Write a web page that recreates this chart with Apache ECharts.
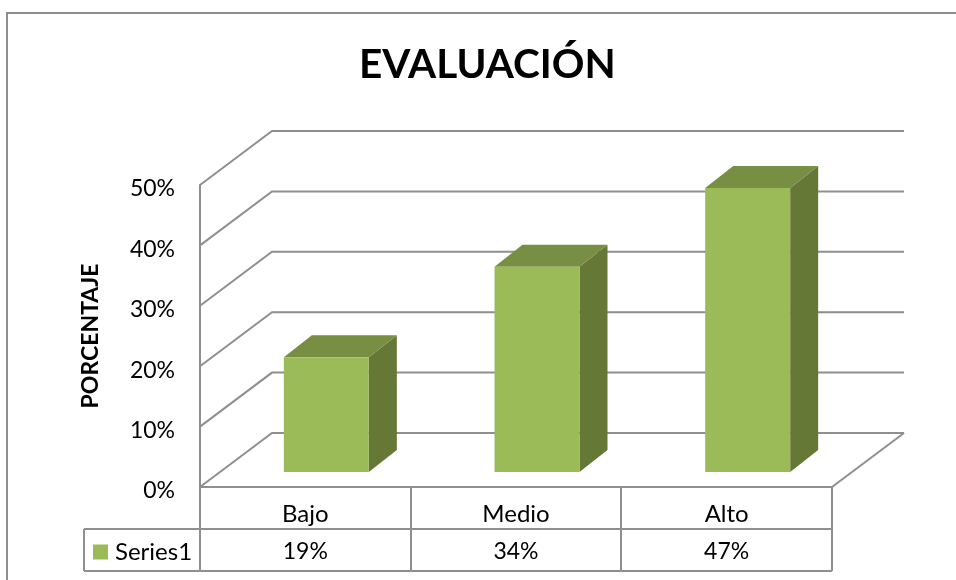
<!DOCTYPE html>
<html>
<head>
<meta charset="utf-8">
<title>Evaluación</title>
<style>
  html, body { margin: 0; padding: 0; background: #ffffff; }
  #chart { width: 956px; height: 580px; }
</style>
<script src="https://cdn.jsdelivr.net/npm/echarts@6/dist/echarts.min.js"></script>
</head>
<body>
<div id="chart"></div>
<script>
const categories = ['Bajo', 'Medio', 'Alto']
const seriesValues = [19, 34, 47]
const wallTicks = [0, 10, 20, 30, 40, 50]

const FONT = 'Lato, Carlito, sans-serif'
const LINE = '#8f8f8f'
const FRONT = '#9BBB59'
const TOP = '#778E43'
const SIDE = '#657836'

// 3D look: depth of the box and of each bar, in pixels
const wallDepth = [72, 54]
const barDepth = [28, 22]
const barLift = [21, 15]
const barWidth = 85

const chart = echarts.init(document.getElementById('chart'))

const renderWall = (params, api) => {
  const rect = params.coordSys
  const y = api.coord([0, api.value(0)])[1]
  const x0 = rect.x
  const x1 = rect.x + wallDepth[0]
  const x2 = rect.x + rect.width + wallDepth[0]
  const y1 = y - wallDepth[1]
  return {
    type: 'polyline',
    shape: { points: [[x0, y], [x1, y1], [x2, y1]] },
    style: { stroke: LINE, lineWidth: 2, fill: null },
    silent: true
  }
}

const renderBar = (params, api) => {
  const base = api.coord([api.value(0), 0])
  const head = api.coord([api.value(0), api.value(1)])
  const left = base[0] + barLift[0] - barWidth / 2
  const right = left + barWidth
  const bottom = base[1] - barLift[1]
  const top = head[1] - barLift[1]
  const [dx, dy] = barDepth
  return {
    type: 'group',
    children: [
      {
        type: 'polygon',
        shape: { points: [[right, top], [right + dx, top - dy], [right + dx, bottom - dy], [right, bottom]] },
        style: { fill: SIDE }
      },
      {
        type: 'polygon',
        shape: { points: [[left, top], [left + dx, top - dy], [right + dx, top - dy], [right, top]] },
        style: { fill: TOP }
      },
      {
        type: 'rect',
        shape: { x: left, y: top, width: barWidth, height: bottom - top },
        style: { fill: FRONT }
      },
      {
        // value cell of the data table
        type: 'text',
        x: base[0],
        y: 552,
        style: {
          text: api.value(1) + '%',
          fill: '#000000',
          font: '23px ' + FONT,
          align: 'center',
          verticalAlign: 'middle'
        }
      }
    ]
  }
}

const tableLine = (points) => ({
  type: 'polyline',
  shape: { points },
  style: { stroke: LINE, lineWidth: 2, fill: null },
  silent: true
})

chart.setOption({
  animation: false,
  backgroundColor: '#ffffff',
  textStyle: { fontFamily: FONT },
  title: {
    text: 'EVALUACIÓN',
    left: 354,
    top: 39,
    textStyle: { color: '#000000', fontSize: 40.5, fontWeight: 'bold', fontFamily: FONT }
  },
  legend: {
    data: ['Series1'],
    left: 93,
    top: 540,
    padding: 0,
    itemWidth: 15,
    itemHeight: 15,
    itemGap: 0,
    icon: 'rect',
    textStyle: { color: '#000000', fontSize: 24, fontFamily: FONT, padding: [0, 0, 0, 2] }
  },
  grid: { left: 200, top: 185, width: 632, height: 302 },
  xAxis: {
    type: 'category',
    data: categories,
    axisLine: { lineStyle: { color: LINE, width: 2 } },
    axisTick: { show: false },
    axisLabel: { color: '#000000', fontSize: 24, fontFamily: FONT, margin: 15 }
  },
  yAxis: {
    type: 'value',
    min: 0,
    max: 50,
    interval: 10,
    name: 'PORCENTAJE',
    nameLocation: 'middle',
    nameRotate: 90,
    nameGap: 98,
    nameTextStyle: { color: '#000000', fontSize: 23, fontWeight: 'bold', fontFamily: FONT },
    axisLine: { show: true, lineStyle: { color: LINE, width: 2 } },
    axisTick: { show: false },
    splitLine: { show: false },
    axisLabel: {
      margin: 25,
      formatter: '{tick|{value}%}',
      rich: { tick: { color: '#000000', fontSize: 23, fontFamily: FONT, padding: [8, 0, 0, 0] } }
    }
  },
  series: [
    {
      name: 'walls',
      type: 'custom',
      renderItem: renderWall,
      encode: { y: 0 },
      data: wallTicks.map((t) => [t]),
      silent: true,
      z: 1
    },
    {
      name: 'Series1',
      type: 'custom',
      renderItem: renderBar,
      encode: { x: 0, y: 1 },
      itemStyle: { color: FRONT },
      data: seriesValues.map((v, i) => [i, v]),
      z: 2
    }
  ],
  graphic: [
    // outer chart frame, cut by the page edge
    tableLine([[7, 580], [7, 13], [956, 13]]),
    // floor edge on the right
    tableLine([[832, 487], [904, 433]]),
    // data table
    tableLine([[200, 487], [200, 571]]),
    tableLine([[411, 487], [411, 571]]),
    tableLine([[621, 487], [621, 571]]),
    tableLine([[832, 487], [832, 571]]),
    tableLine([[84, 529], [832, 529]]),
    tableLine([[84, 571], [832, 571]]),
    tableLine([[84, 529], [84, 571]])
  ]
})
</script>
</body>
</html>
